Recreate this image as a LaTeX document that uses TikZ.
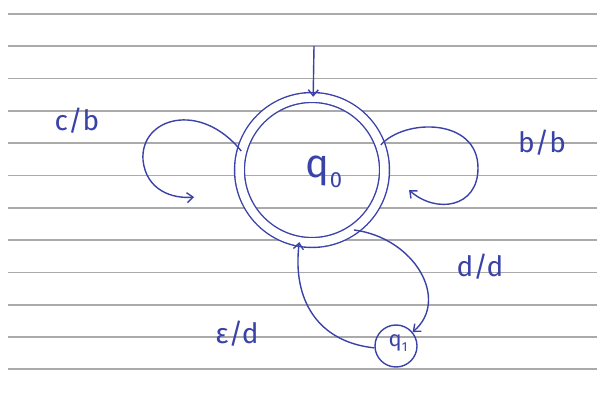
\documentclass[tikz,border=0pt]{standalone}
\usepackage{fontspec}
\setmainfont{Fira Sans}
\usetikzlibrary{arrows.meta}

\definecolor{ink}{RGB}{58,66,168}
\definecolor{ruling}{RGB}{170,170,170}

\newcommand*{\pxmin}{8}
\newcommand*{\pxmax}{597}

\begin{document}
\begin{tikzpicture}
[
	x=1pt,y=-1pt,
	state/.style={circle,draw=ink,line width=1.4pt,inner sep=0pt},
	accept/.style={state,double,double distance=8.5pt,minimum size=145pt},
	small/.style={state,minimum size=42pt},
	edge/.style={ink,line width=1.4pt,-{Straight Barb[length=6pt,width=10pt]}},
	lbl/.style={ink,font=\fontsize{28}{28}\selectfont}
]
	\useasboundingbox (0,0) rectangle (597,398);

	% ruled paper
	\foreach \i in {0,1,...,11} {
		\draw[ruling,line width=1.8pt] (\pxmin,14+32.3*\i) -- (\pxmax,14+32.3*\i);
	}

	% states
	\node[accept] at (312,170) (q0) {};
	\node[ink,font=\fontsize{40}{40}\selectfont] at (324,172) (q0lbl)
		{q\raisebox{-10pt}{\fontsize{22}{22}\selectfont 0}};
	\node[small] at (396,346) (q1) {};
	\node[ink,font=\fontsize{22}{22}\selectfont] at (398,343) (q1lbl)
		{q\raisebox{-5pt}{\fontsize{13}{13}\selectfont 1}};

	% start arrow
	\coordinate (init) at (314,46);
	\draw[edge] (init) -- (q0);

	% c/b loop
	\coordinate (cbend) at (194,197);
	\draw[edge] (q0.165) .. controls (200,100) and (140,118) .. (143,160)
		.. controls (146,190) and (172,199) .. (cbend);
	\node[lbl] at (77,121) (cb) {c/b};

	% b/b loop
	\coordinate (bbend) at (409,190);
	\draw[edge] (q0.20) .. controls (405,118) and (478,118) .. (478,168)
		.. controls (478,208) and (436,214) .. (bbend);
	\node[lbl] at (542,143) (bb) {b/b};

	% d/d
	\draw[edge] (q0.-55) .. controls (415,238) and (450,300) .. (q1.40);
	\node[lbl] at (480,267) (dd) {d/d};

	% eps/d
	\draw[edge] (q1.185) .. controls (318,342) and (292,300) .. (q0.-100);
	\node[lbl] at (237,334) (ed) {ε/d};

\end{tikzpicture}
\end{document}
